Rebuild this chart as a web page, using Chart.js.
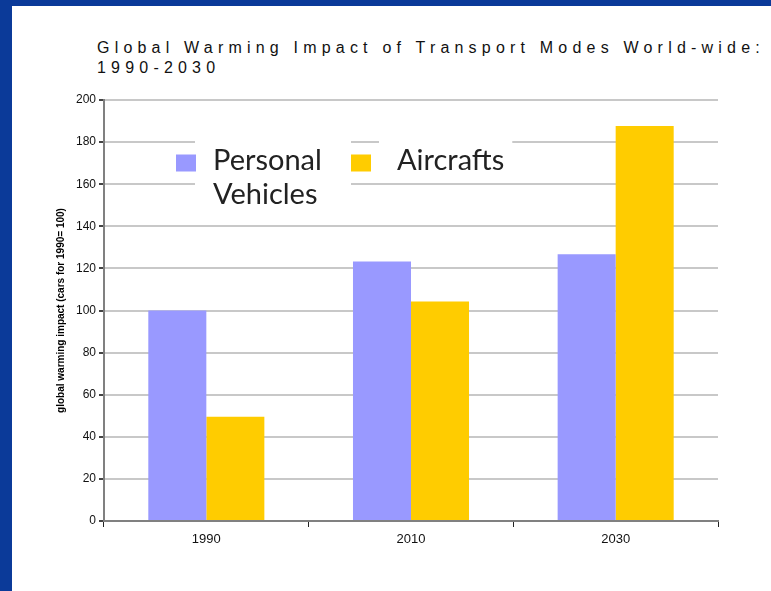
<!DOCTYPE html>
<html>
<head>
<meta charset="utf-8">
<script src="https://cdn.jsdelivr.net/npm/chart.js@4/dist/chart.umd.min.js"></script>
<style>
  html, body { margin: 0; padding: 0; }
  body { width: 771px; height: 591px; background: #0b3a99; position: relative; overflow: hidden; }
  #sheet { position: absolute; left: 12px; top: 6px; right: 0; bottom: 0; background: #fff; }
  #title {
    position: absolute; left: 97px; top: 38px;
    font: 16px "Liberation Sans", Arial, sans-serif; line-height: 20px;
    letter-spacing: 5.2px; color: #111; white-space: nowrap;
  }
  #chart { position: absolute; left: 0; top: 0; }
</style>
</head>
<body>
<div id="sheet"></div>
<div id="title">Global Warming Impact of Transport Modes World-wide:<br>1990-2030</div>
<canvas id="chart" width="771" height="591"></canvas>
<script>
const years = ['1990', '2010', '2030'];
const personalVehicles = [100, 123.3, 126.7];
const aircrafts = [49.5, 104.3, 187.6];
const seriesNames = [['Personal', 'Vehicles'], ['Aircrafts']];
const yMin = 0, yMax = 200, yStep = 20;

// legend sits inside the plot area, with white boxes over the grid lines
const insideLegend = {
  id: 'insideLegend',
  afterDatasetsDraw(chart) {
    const ctx = chart.ctx;
    const area = chart.chartArea;
    const spots = [{ mx: 72, tx: 109 }, { mx: 247, tx: 293 }];
    const top = area.top + 69.5;
    ctx.save();
    ctx.font = '29px Lato, "Open Sans", sans-serif';
    ctx.textBaseline = 'alphabetic';
    chart.data.datasets.forEach((ds, i) => {
      const lines = seriesNames[i];
      const s = spots[i];
      const tx = area.left + s.tx;
      const w = Math.max(...lines.map(l => ctx.measureText(l).width));
      const right = i < spots.length - 1 ? area.left + spots[i + 1].mx : tx + w + 8;
      ctx.fillStyle = '#fff';
      ctx.fillRect(tx - 18, top - 34, right - (tx - 18), (lines.length - 1) * 34 + 44);
      ctx.fillStyle = ds.backgroundColor;
      ctx.fillRect(area.left + s.mx, top - 15, 20, 17);
      ctx.fillStyle = '#222';
      lines.forEach((l, k) => ctx.fillText(l, tx, top + k * 34));
    });
    ctx.restore();
  }
};

new Chart(document.getElementById('chart'), {
  type: 'bar',
  data: {
    labels: years,
    datasets: [
      { label: 'Personal Vehicles', data: personalVehicles, backgroundColor: '#9999ff' },
      { label: 'Aircrafts', data: aircrafts, backgroundColor: '#ffcc00' }
    ]
  },
  options: {
    responsive: false,
    animation: false,
    layout: { padding: { left: 53, top: 100, right: 53, bottom: 30 } },
    datasets: { bar: { categoryPercentage: 0.567, barPercentage: 1.0 } },
    plugins: { legend: { display: false }, title: { display: false }, tooltip: { enabled: false } },
    scales: {
      x: {
        afterFit(scale) { scale.height = 40; },
        grid: { offset: true, drawOnChartArea: false, tickLength: 6, tickColor: '#222', lineWidth: 1 },
        border: { color: '#808080', width: 2 },
        ticks: { color: '#111', padding: 5, font: { family: '"Liberation Sans", Arial', size: 13 } }
      },
      y: {
        min: yMin, max: yMax,
        afterFit(scale) { scale.width = 51; },
        grid: { color: '#c8c8c8', lineWidth: 2, tickLength: 5, tickColor: '#444' },
        border: { color: '#808080', width: 2 },
        ticks: { stepSize: yStep, color: '#111', padding: 3, font: { family: '"Liberation Sans", Arial', size: 12 } },
        title: {
          display: true,
          text: 'global warming impact (cars for 1990= 100)',
          color: '#000',
          padding: { top: 2, bottom: 2 },
          font: { family: '"Liberation Sans", Arial', size: 10, weight: 'bold' }
        }
      }
    }
  },
  plugins: [insideLegend]
});
</script>
</body>
</html>
